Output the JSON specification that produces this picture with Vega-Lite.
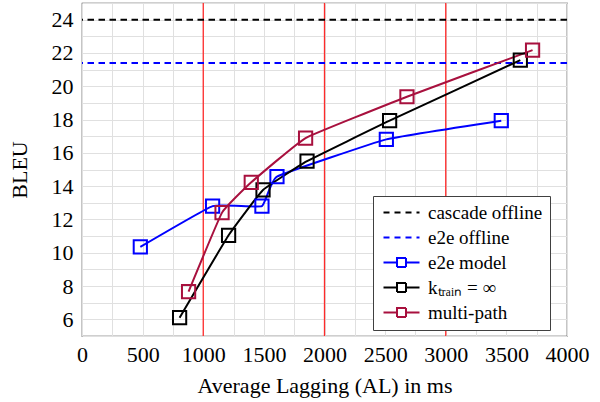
{
  "$schema": "https://vega.github.io/schema/vega-lite/v6.json",
  "width": 485,
  "height": 333,
  "autosize": "none",
  "padding": {"left": 82, "top": 3, "right": 33, "bottom": 66},
  "background": "white",
  "config": {
    "view": {"stroke": "#404040", "strokeWidth": 1.2},
    "font": "Liberation Serif",
    "legend": {"labelFont": "Liberation Serif"},
    "axis": {
      "labelFont": "Liberation Serif",
      "titleFont": "Liberation Serif",
      "labelFontSize": 22,
      "titleFontSize": 22,
      "titleFontWeight": "normal",
      "labelColor": "black",
      "titleColor": "black",
      "grid": true,
      "gridColor": "#e0e0e0",
      "gridWidth": 1,
      "ticks": false,
      "domain": false
    }
  },
  "datasets": {
    "series": [
      {"s": "e2e model", "al": 481, "bleu": 10.35},
      {"s": "e2e model", "al": 1077, "bleu": 12.8},
      {"s": "e2e model", "al": 1484, "bleu": 12.8},
      {"s": "e2e model", "al": 1608, "bleu": 14.57},
      {"s": "e2e model", "al": 2510, "bleu": 16.81},
      {"s": "e2e model", "al": 3458, "bleu": 17.93},
      {"s": "ktrain", "al": 805, "bleu": 6.1},
      {"s": "ktrain", "al": 1209, "bleu": 11.05},
      {"s": "ktrain", "al": 1493, "bleu": 13.77},
      {"s": "ktrain", "al": 1856, "bleu": 15.5},
      {"s": "ktrain", "al": 2537, "bleu": 17.93},
      {"s": "ktrain", "al": 3615, "bleu": 21.57},
      {"s": "multi-path", "al": 879, "bleu": 7.67},
      {"s": "multi-path", "al": 1155, "bleu": 12.41},
      {"s": "multi-path", "al": 1396, "bleu": 14.23},
      {"s": "multi-path", "al": 1844, "bleu": 16.89},
      {"s": "multi-path", "al": 2680, "bleu": 19.37},
      {"s": "multi-path", "al": 3716, "bleu": 22.17}
    ],
    "offline": [
      {"s": "cascade offline", "bleu": 24.0},
      {"s": "e2e offline", "bleu": 21.4}
    ],
    "marks": [
      {"al": 1000},
      {"al": 2000},
      {"al": 3000}
    ]
  },
  "layer": [
    {
      "data": {"name": "marks"},
      "mark": {"type": "rule", "color": "#ff2a2a", "strokeWidth": 1.3},
      "encoding": {
        "x": {
          "field": "al", "type": "quantitative",
          "scale": {"domain": [0, 4000], "nice": false},
          "axis": {
            "values": [0, 250, 500, 750, 1000, 1250, 1500, 1750, 2000, 2250, 2500, 2750, 3000, 3250, 3500, 3750, 4000],
            "labelExpr": "datum.value % 500 === 0 ? datum.label : ''",
            "format": "d",
            "title": "Average Lagging (AL) in ms",
            "labelPadding": 8,
            "titlePadding": 10,
            "labelFlush": false
          }
        }
      }
    },
    {
      "data": {"name": "offline"},
      "mark": {"type": "rule", "strokeWidth": 2, "strokeDash": [6.5, 4.5]},
      "encoding": {
        "y": {
          "field": "bleu", "type": "quantitative",
          "scale": {"domain": [5, 25], "nice": false, "zero": false},
          "axis": {
            "values": [5, 6, 7, 8, 9, 10, 11, 12, 13, 14, 15, 16, 17, 18, 19, 20, 21, 22, 23, 24, 25],
            "labelExpr": "datum.value % 2 === 0 && datum.value > 5 && datum.value < 25 ? datum.label : ''",
            "title": "BLEU",
            "labelPadding": 9,
            "titlePadding": 20,
            "labelFlush": false
          }
        },
        "color": {
          "field": "s", "type": "nominal",
          "scale": {
            "domain": ["cascade offline", "e2e offline", "e2e model", "ktrain", "multi-path"],
            "range": ["black", "#0000ff", "#0000ff", "black", "#a8103e"]
          },
          "legend": {
            "title": null,
            "orient": "none",
            "legendX": 291,
            "legendY": 193,
            "fillColor": "white",
            "strokeColor": "#404040",
            "padding": 7,
            "rowPadding": 5,
            "symbolSize": 144,
            "symbolStrokeWidth": 2,
            "labelFont": "Liberation Serif",
            "labelFontSize": 19,
            "labelColor": "black",
            "labelOffset": 29,
            "labelExpr": "datum.value === 'ktrain' ? 'kₜᵣₐᵢₙ = ∞' : datum.label",
            "encode": {
              "symbols": {
                "update": {
                  "shape": {"signal": "datum.value === 'cascade offline' || datum.value === 'e2e offline' ? 'M-1,0H5' : 'M-1,0H1.25M2.75,0H5M1.25,-0.75H2.75V0.75H1.25Z'"},
                  "strokeDash": {"signal": "datum.value === 'cascade offline' || datum.value === 'e2e offline' ? [6, 5] : [1, 0]"},
                  "fill": {"value": "transparent"},
                  "strokeWidth": {"value": 2}
                }
              }
            }
          }
        }
      }
    },
    {
      "data": {"name": "series"},
      "mark": {
        "type": "line",
        "strokeWidth": 2,
        "interpolate": "cardinal",
        "tension": 0.7,
        "point": {"shape": "square", "filled": false, "size": 175, "strokeWidth": 2}
      },
      "encoding": {
        "x": {
          "field": "al", "type": "quantitative",
          "scale": {"domain": [0, 4000], "nice": false},
          "axis": {
            "values": [0, 250, 500, 750, 1000, 1250, 1500, 1750, 2000, 2250, 2500, 2750, 3000, 3250, 3500, 3750, 4000],
            "labelExpr": "datum.value % 500 === 0 ? datum.label : ''",
            "format": "d",
            "title": "Average Lagging (AL) in ms",
            "labelPadding": 8,
            "titlePadding": 10,
            "labelFlush": false
          }
        },
        "y": {
          "field": "bleu", "type": "quantitative",
          "scale": {"domain": [5, 25], "nice": false, "zero": false},
          "axis": {
            "values": [5, 6, 7, 8, 9, 10, 11, 12, 13, 14, 15, 16, 17, 18, 19, 20, 21, 22, 23, 24, 25],
            "labelExpr": "datum.value % 2 === 0 && datum.value > 5 && datum.value < 25 ? datum.label : ''",
            "title": "BLEU",
            "labelPadding": 9,
            "titlePadding": 20,
            "labelFlush": false
          }
        },
        "color": {
          "field": "s", "type": "nominal",
          "scale": {
            "domain": ["cascade offline", "e2e offline", "e2e model", "ktrain", "multi-path"],
            "range": ["black", "#0000ff", "#0000ff", "black", "#a8103e"]
          },
          "legend": {
            "title": null,
            "orient": "none",
            "legendX": 291,
            "legendY": 193,
            "fillColor": "white",
            "strokeColor": "#404040",
            "padding": 7,
            "rowPadding": 5,
            "symbolSize": 144,
            "symbolStrokeWidth": 2,
            "labelFont": "Liberation Serif",
            "labelFontSize": 19,
            "labelColor": "black",
            "labelOffset": 29,
            "labelExpr": "datum.value === 'ktrain' ? 'kₜᵣₐᵢₙ = ∞' : datum.label",
            "encode": {
              "symbols": {
                "update": {
                  "shape": {"signal": "datum.value === 'cascade offline' || datum.value === 'e2e offline' ? 'M-1,0H5' : 'M-1,0H1.25M2.75,0H5M1.25,-0.75H2.75V0.75H1.25Z'"},
                  "strokeDash": {"signal": "datum.value === 'cascade offline' || datum.value === 'e2e offline' ? [6, 5] : [1, 0]"},
                  "fill": {"value": "transparent"},
                  "strokeWidth": {"value": 2}
                }
              }
            }
          }
        }
      }
    }
  ]
}
